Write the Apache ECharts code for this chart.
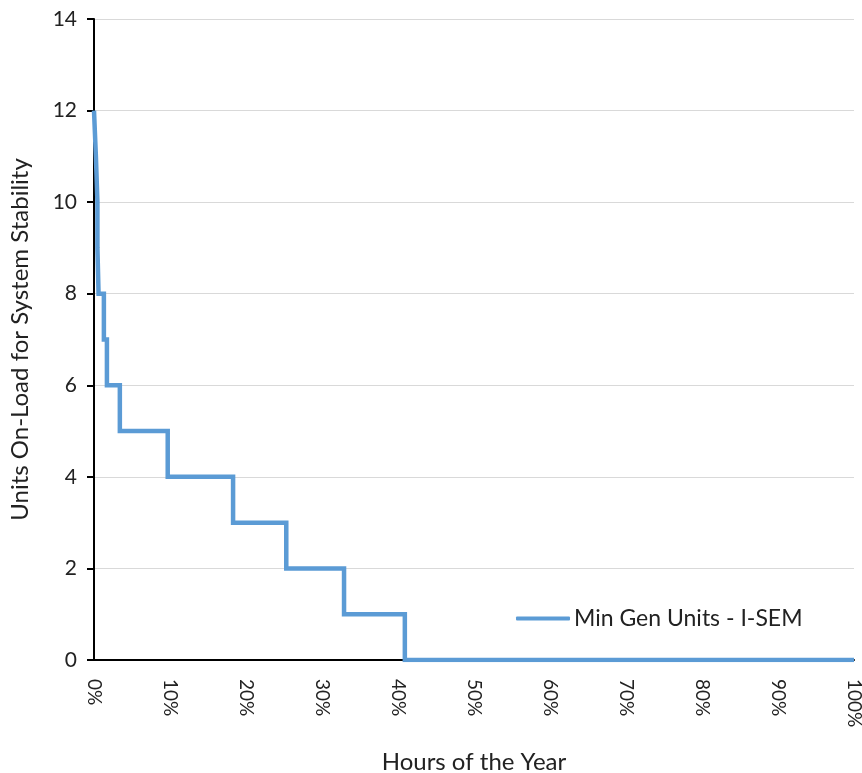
<!DOCTYPE html>
<html><head><meta charset="utf-8">
<script src="https://cdn.jsdelivr.net/npm/echarts@6/dist/echarts.min.js"></script>
<style>html,body{margin:0;padding:0;background:#fff}#c{width:862px;height:773px}</style>
</head><body><div id="c"></div>
<script>
// Step duration curve: each level holds until the given % of hours
const seriesName = 'Min Gen Units - I-SEM';
const unitLevels = [12, 11, 10, 9, 8, 7, 6, 5, 4, 3, 2, 1, 0];
const stepEndPct = [0.25, 0.45, 0.45, 0.6, 1.3, 1.7, 3.4, 9.7, 18.3, 25.3, 32.9, 40.9, 100];
const yTicks = [0, 2, 4, 6, 8, 10, 12, 14];
const xTicks = [0, 10, 20, 30, 40, 50, 60, 70, 80, 90, 100];

const pts = [];
let start = 0;
for (let i = 0; i < unitLevels.length; i++) {
  pts.push([start, unitLevels[i]]);
  pts.push([stepEndPct[i], unitLevels[i]]);
  start = stepEndPct[i];
}

const font = 'Lato, "Open Sans", sans-serif';
const chart = echarts.init(document.getElementById('c'), null, {renderer: 'canvas'});
chart.setOption({
  animation: false,
  textStyle: {fontFamily: font},
  grid: {left: 94, right: 8, top: 19, bottom: 113, containLabel: false, outerBoundsMode: 'none'},
  legend: {
    left: 511, top: 602,
    icon: 'roundRect',
    itemWidth: 54, itemHeight: 4, itemGap: 4,
    textStyle: {fontFamily: font, fontSize: 23, color: '#222', padding: [0, 0, 0, -1]},
    data: [seriesName]
  },
  xAxis: {
    type: 'value', min: xTicks[0], max: xTicks[xTicks.length - 1], interval: 10,
    name: 'Hours of the Year', nameLocation: 'middle', nameGap: 90,
    nameTextStyle: {fontFamily: font, fontSize: 24, color: '#222'},
    axisLine: {show: true, lineStyle: {color: '#000', width: 2}},
    axisTick: {show: false},
    splitLine: {show: false},
    axisLabel: {rotate: -90, formatter: '{value}%', fontSize: 19, color: '#222', margin: 19, fontFamily: font}
  },
  yAxis: {
    type: 'value', min: yTicks[0], max: yTicks[yTicks.length - 1], interval: 2,
    name: 'Units On-Load for System Stability', nameLocation: 'middle', nameGap: 62, nameRotate: 90,
    nameTextStyle: {fontFamily: font, fontSize: 24, color: '#222'},
    axisLine: {show: true, lineStyle: {color: '#000', width: 2}},
    axisTick: {show: true, length: 7, lineStyle: {color: '#000', width: 2}},
    splitLine: {show: true, lineStyle: {color: '#d9d9d9', width: 1}},
    axisLabel: {fontSize: 21, color: '#222', margin: 17, fontFamily: font}
  },
  series: [{
    name: seriesName, type: 'line', data: pts,
    symbol: 'none', showSymbol: false,
    lineStyle: {color: '#5B9BD5', width: 4.5, cap: 'butt', join: 'miter'},
    itemStyle: {color: '#5B9BD5'}
  }]
});
</script></body></html>
